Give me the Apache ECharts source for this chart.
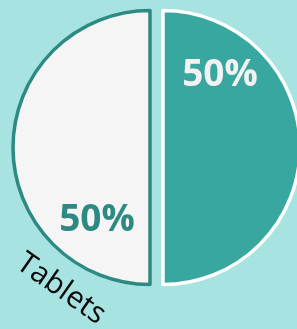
<!DOCTYPE html>
<html>
<head>
<meta charset="utf-8">
<script src="https://cdn.jsdelivr.net/npm/echarts@6/dist/echarts.min.js"></script>
<style>
html,body{margin:0;padding:0;background:#a7e3e0;}
#c{width:297px;height:329px;}
</style>
</head>
<body>
<div id="c"></div>
<script>
var categories = ['Others', 'Tablets'];
var values = [50, 50];
var sliceColors = ['#37a79f', '#f5f5f5'];
var borderColors = ['#ffffff', '#2d8a83'];
var labelColors = ['#f2f2f2', '#2d8a83'];
var pctPos = [[220, 75], [97, 220]];
var nameShown = 'Tablets';
var namePos = [61, 289];

var chart = echarts.init(document.getElementById('c'), null, {renderer: 'canvas'});
var pieData = categories.map(function (c, i) {
  return {
    name: c, value: values[i], selected: true,
    itemStyle: {color: sliceColors[i], borderColor: borderColors[i], borderWidth: 3.5}
  };
});
var total = values.reduce(function (a, b) { return a + b; }, 0);

var series = [{
  type: 'pie',
  z: 2,
  center: [156.5, 147.5],
  radius: [0, 137],
  startAngle: 90,
  selectedMode: 'multiple',
  selectedOffset: 6.5,
  silent: true,
  label: {show: false},
  labelLine: {show: false},
  data: pieData
}];

categories.forEach(function (c, i) {
  var pct = Math.round(values[i] / total * 100) + '%';
  series.push({
    type: 'pie',
    z: 5,
    center: pctPos[i],
    radius: [0, 1],
    silent: true,
    itemStyle: {color: 'rgba(0,0,0,0)'},
    label: {
      show: true, position: 'center',
      formatter: pct,
      color: labelColors[i], fontFamily: 'Open Sans', fontWeight: 'bold', fontSize: 37
    },
    labelLine: {show: false},
    data: [{name: c, value: values[i]}]
  });
});

var ni = categories.indexOf(nameShown);
series.push({
  type: 'pie',
  z: 5,
  center: namePos,
  radius: [0, 1],
  silent: true,
  itemStyle: {color: 'rgba(0,0,0,0)'},
  label: {
    show: true, position: 'center', formatter: '{b}', rotate: -35,
    color: '#0a0a0a', fontFamily: 'Open Sans', fontSize: 30
  },
  labelLine: {show: false},
  data: [{name: categories[ni], value: values[ni]}]
});

chart.setOption({
  backgroundColor: '#a7e3e0',
  animation: false,
  series: series
});
</script>
</body>
</html>
